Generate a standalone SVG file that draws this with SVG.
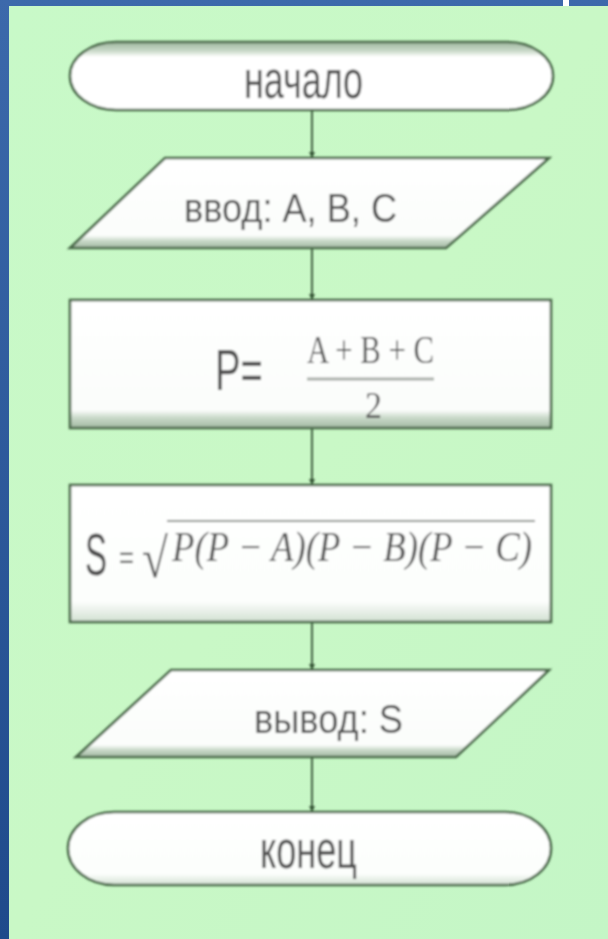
<svg xmlns="http://www.w3.org/2000/svg" width="608" height="939" viewBox="0 0 608 939">
  <defs>
    <style>
      .shape { stroke: #476747; stroke-width: 2.6; }
      .lbl { font-family: "Liberation Sans", Arial, sans-serif; fill: #505050; }
      .math { font-family: "Liberation Serif", "Times New Roman", serif; fill: #585858; }
      .it { font-style: italic; }
      .link { stroke: #3f5f3f; stroke-width: 2; fill: none; }
    </style>
    <linearGradient id="bgBlue" x1="0" y1="0" x2="0" y2="1">
      <stop offset="0" stop-color="#3c69ab"/>
      <stop offset="1" stop-color="#1f4a8b"/>
    </linearGradient>
    <linearGradient id="panelFill" x1="0" y1="0" x2="1" y2="1">
      <stop offset="0" stop-color="#c8f9c8"/>
      <stop offset="0.5" stop-color="#c9f8c6"/>
      <stop offset="1" stop-color="#c4f6c6"/>
    </linearGradient>
    <!-- white fill with a grey shade along the top edge -->
    <linearGradient id="shadeTop" x1="0" y1="0" x2="0" y2="1">
      <stop offset="0" stop-color="#9db69d"/>
      <stop offset="0.13" stop-color="#c9d9c8"/>
      <stop offset="0.22" stop-color="#ffffff"/>
      <stop offset="1" stop-color="#ffffff"/>
    </linearGradient>
    <!-- white fill with a grey shade along the bottom edge -->
    <linearGradient id="shadeBottom" x1="0" y1="0" x2="0" y2="1">
      <stop offset="0" stop-color="#ffffff"/>
      <stop offset="0.86" stop-color="#fbfdfb"/>
      <stop offset="0.92" stop-color="#c9d9c9"/>
      <stop offset="1" stop-color="#a2b8a2"/>
    </linearGradient>
    <linearGradient id="shadeLight" x1="0" y1="0" x2="0" y2="1">
      <stop offset="0" stop-color="#ffffff"/>
      <stop offset="0.85" stop-color="#fcfefc"/>
      <stop offset="1" stop-color="#d2e0d2"/>
    </linearGradient>
    <filter id="soft" x="-5%" y="-5%" width="110%" height="110%">
      <feGaussianBlur stdDeviation="0.8"/>
    </filter>
    <marker id="arrow" markerWidth="6" markerHeight="6" refX="5" refY="3" orient="auto" markerUnits="userSpaceOnUse">
      <path d="M0,0 L6,3 L0,6 Z" fill="#2f4f2f"/>
    </marker>
  </defs>

  <!-- slide background and green panel -->
  <rect x="0" y="0" width="608" height="939" fill="url(#bgBlue)"/>
  <rect x="9" y="6" width="599" height="933" fill="url(#panelFill)"/>
  <rect x="563" y="0" width="6" height="6" fill="#ffffff"/>

  <g filter="url(#soft)">
    <!-- connectors -->
    <g id="connectors">
      <line class="link" x1="312" y1="110" x2="312" y2="157" marker-end="url(#arrow)"/>
      <line class="link" x1="312" y1="248" x2="312" y2="299" marker-end="url(#arrow)"/>
      <line class="link" x1="312" y1="428" x2="312" y2="484" marker-end="url(#arrow)"/>
      <line class="link" x1="312" y1="622" x2="312" y2="669" marker-end="url(#arrow)"/>
      <line class="link" x1="312" y1="757" x2="312" y2="811" marker-end="url(#arrow)"/>
    </g>

    <!-- start terminator -->
    <g id="start">
      <path class="shape" fill="url(#shadeTop)" d="M116,42 H507 A46,34 0 0 1 507,110 H116 A46,34 0 0 1 116,42 Z"/>
      <text class="lbl" x="244" y="98" font-size="54" textLength="119" lengthAdjust="spacingAndGlyphs">начало</text>
    </g>

    <!-- input -->
    <g id="input">
      <polygon class="shape" fill="url(#shadeBottom)" points="165,158 549,158 446,248 70,248"/>
      <text class="lbl" x="184" y="222" font-size="40" textLength="213" lengthAdjust="spacingAndGlyphs">ввод: A, B, C</text>
    </g>

    <!-- semi-perimeter -->
    <g id="perimeter">
      <rect class="shape" fill="url(#shadeBottom)" x="70" y="300" width="481" height="128"/>
      <text class="lbl" x="215" y="390" font-size="58" textLength="48" lengthAdjust="spacingAndGlyphs">P=</text>
      <text class="math" x="307" y="363" font-size="40" textLength="127" lengthAdjust="spacingAndGlyphs">A + B + C</text>
      <line x1="307" y1="379" x2="434" y2="379" stroke="#a8aea8" stroke-width="3"/>
      <text class="math" x="365" y="418" font-size="38" textLength="17" lengthAdjust="spacingAndGlyphs">2</text>
    </g>

    <!-- area: S = sqrt(P(P-A)(P-B)(P-C)) -->
    <g id="area">
      <rect class="shape" fill="url(#shadeLight)" x="70" y="485" width="481" height="137"/>
      <text class="lbl" font-size="60" transform="translate(85,575) scale(0.55,1)">S</text>
      <text class="lbl" font-size="32" transform="translate(119,568) scale(0.8,1)">=</text>
      <text class="math" font-size="56" transform="translate(142,577) scale(0.84,1)">√</text>
      <line x1="167" y1="521" x2="535" y2="521" stroke="#8a8f8a" stroke-width="2"/>
      <text class="math it" x="172" y="561" font-size="42" textLength="360" lengthAdjust="spacingAndGlyphs">P(P − A)(P − B)(P − C)</text>
    </g>

    <!-- output -->
    <g id="output">
      <polygon class="shape" fill="url(#shadeBottom)" points="171,670 549,670 456,757 76,757"/>
      <text class="lbl" x="254" y="733" font-size="40" textLength="149" lengthAdjust="spacingAndGlyphs">вывод: S</text>
    </g>

    <!-- end terminator -->
    <g id="end">
      <path class="shape" fill="url(#shadeLight)" d="M114,812 H505 A46,36.5 0 0 1 505,885 H114 A46,36.5 0 0 1 114,812 Z"/>
      <text class="lbl" x="260" y="868" font-size="54" textLength="97" lengthAdjust="spacingAndGlyphs">конец</text>
    </g>
  </g>
</svg>
